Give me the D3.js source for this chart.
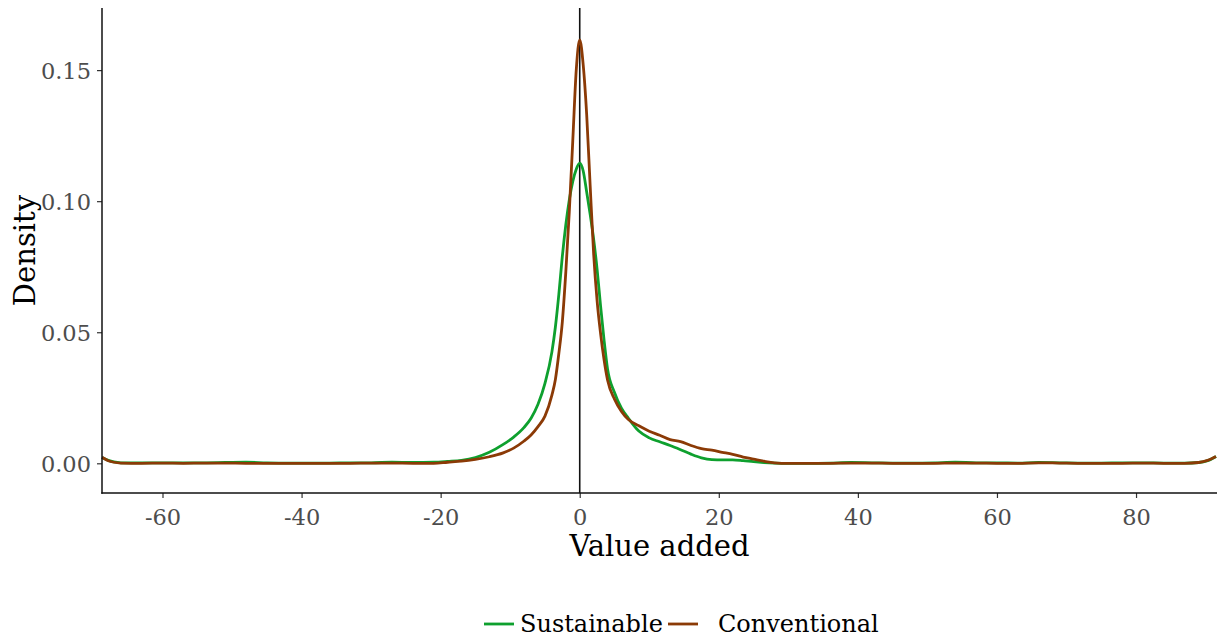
<!DOCTYPE html>
<html lang="en">
<head>
  <meta charset="UTF-8">
  <script src="https://d3js.org/d3.v7.min.js"></script>
  <title>Density of value added</title>
  <style>
    body { margin: 0; background: white; }
    svg text { font-family: "DejaVu Serif", serif; }
  </style>
</head>
<body>
<div id="chart"></div>
<script>
  // grid of x values shared by both density curves
  const xs = [-68.7, -67.8, -67, -66, -63, -60, -57, -54, -51, -48, -45, -42, -39, -36, -33, -30, -27, -24, -21,
    -19, -17, -15, -13, -11, -9.5, -8, -7, -6, -5, -4, -3.5, -3, -2.5, -2, -1.5, -1, -0.5,
    0,
    0.5, 1, 1.5, 2, 2.5, 3, 3.5, 4, 5, 6, 7,
    8.5, 10, 11.5, 13, 14.5, 16, 17.5, 19, 20.5, 22, 23.5, 25, 26.5, 28, 30,
    33, 36, 39, 42, 45, 48, 51, 54, 57, 60, 63, 66, 69, 72, 75, 78, 81, 84, 87, 89, 90.3, 91.5];

  const sustainable = [0.0022, 0.0011, 0.0005, 0.0002, 0.0002, 0.0002, 0.0002, 0.0002, 0.0003, 0.0004, 0.0002, 0.0001, 0.0001, 0.0001, 0.0002, 0.0002, 0.0004, 0.0003, 0.0004,
    0.0007, 0.0011, 0.0022, 0.0042, 0.0072, 0.0100, 0.0137, 0.0172, 0.0225, 0.0305, 0.0425, 0.052, 0.0645, 0.079, 0.091, 0.1005, 0.1075, 0.1122,
    0.1145,
    0.1115, 0.1035, 0.095, 0.0855, 0.074, 0.060, 0.047, 0.036, 0.027, 0.021, 0.0172,
    0.0123, 0.0097, 0.0082, 0.0068, 0.0052, 0.0035, 0.0021, 0.0014, 0.0013, 0.0013, 0.0010, 0.0006, 0.0003, 0.0001, 0.0000,
    0.0000, 0.0001, 0.0003, 0.0002, 0.0001, 0.0001, 0.0002, 0.0004, 0.0002, 0.0002, 0.0001, 0.0003, 0.0002, 0.0001, 0.0001, 0.0002, 0.0002, 0.0001, 0.0001, 0.0003, 0.0010, 0.0026];

  const conventional = [0.0023, 0.0010, 0.0004, 0.0001, 0.0000, 0.0001, 0.0000, 0.0001, 0.0001, 0.0000, 0.0000, 0.0000, 0.0000, 0.0000, 0.0000, 0.0001, 0.0001, 0.0000, 0.0000,
    0.0004, 0.0008, 0.0015, 0.0025, 0.0040, 0.0058, 0.0085, 0.0108, 0.0140, 0.0180, 0.0260, 0.0320, 0.0420, 0.0540, 0.0730, 0.0960, 0.1230, 0.1500,
    0.1615,
    0.152, 0.133, 0.106, 0.080, 0.062, 0.0495, 0.0395, 0.0318, 0.0245, 0.0198, 0.0167,
    0.0143, 0.0122, 0.0107, 0.0090, 0.0083, 0.0068, 0.0056, 0.0050, 0.0042, 0.0034, 0.0024, 0.0016, 0.0008, 0.0002, 0.0000,
    0.0000, 0.0000, 0.0001, 0.0001, 0.0000, 0.0000, 0.0000, 0.0001, 0.0001, 0.0000, 0.0000, 0.0002, 0.0001, 0.0000, 0.0000, 0.0000, 0.0001, 0.0000, 0.0000, 0.0003, 0.0011, 0.0026];

  const xTicks = [-60, -40, -20, 0, 20, 40, 60, 80];
  const yTicks = [0, 0.05, 0.10, 0.15];
  const seriesNames = ["Sustainable", "Conventional"];
  const seriesColors = ["#0ea02e", "#8b3a06"];

  const W = 1217, H = 638;
  const panel = { left: 102, right: 1216, top: 8, bottom: 493 };

  const svg = d3.select("#chart").append("svg")
    .attr("width", W).attr("height", H);

  const x = d3.scaleLinear().domain([-68.7, 91.5]).range([panel.left, panel.right]);
  const y = d3.scaleLinear().domain([-0.01133, 0.1737]).range([panel.bottom, panel.top]);

  // vertical reference line at 0
  svg.append("line")
    .attr("x1", x(0)).attr("x2", x(0))
    .attr("y1", panel.top).attr("y2", panel.bottom)
    .attr("stroke", "#111").attr("stroke-width", 1.6);

  const line = d3.line()
    .x((d, i) => x(xs[i]))
    .y(d => y(d))
    .curve(d3.curveMonotoneX);

  [sustainable, conventional].forEach((s, k) => {
    svg.append("path")
      .datum(s)
      .attr("d", line)
      .attr("fill", "none")
      .attr("stroke", seriesColors[k])
      .attr("stroke-width", 2.8)
      .attr("stroke-linejoin", "round");
  });

  // axes (plain hyphen for negatives, as in the original)
  const xAxis = svg.append("g")
    .attr("transform", `translate(0,${panel.bottom})`)
    .call(d3.axisBottom(x).tickValues(xTicks).tickSize(5).tickPadding(6).tickFormat(d => String(d)));
  const yAxis = svg.append("g")
    .attr("transform", `translate(${panel.left},0)`)
    .call(d3.axisLeft(y).tickValues(yTicks).tickSize(5).tickPadding(6).tickFormat(d => d.toFixed(2)));

  [xAxis, yAxis].forEach(g => {
    g.select(".domain").remove();
    g.selectAll(".tick line").attr("stroke", "#333").attr("stroke-width", 1.2);
    g.selectAll(".tick text")
      .attr("fill", "#4d4d4d")
      .style("font-size", "22.5px")
      .style("font-family", "'DejaVu Serif', serif");
  });
  xAxis.selectAll(".tick text").attr("dy", null).attr("y", 32);
  yAxis.selectAll(".tick text").attr("dy", "0.36em");

  svg.append("line")
    .attr("x1", panel.left).attr("x2", panel.left)
    .attr("y1", panel.top).attr("y2", panel.bottom + 0.7)
    .attr("stroke", "#111").attr("stroke-width", 1.5);
  svg.append("line")
    .attr("x1", panel.left - 0.7).attr("x2", W)
    .attr("y1", panel.bottom).attr("y2", panel.bottom)
    .attr("stroke", "#111").attr("stroke-width", 1.5);

  // axis titles
  svg.append("text")
    .attr("x", (panel.left + W) / 2).attr("y", 556)
    .attr("text-anchor", "middle")
    .style("font-size", "29px")
    .attr("fill", "black")
    .text("Value added");

  svg.append("text")
    .attr("transform", `translate(35,${(panel.top + panel.bottom) / 2}) rotate(-90)`)
    .attr("text-anchor", "middle")
    .style("font-size", "29px")
    .attr("fill", "black")
    .text("Density");

  // legend
  const legendKeys = [484, 668];
  const legendText = [520, 718];
  seriesNames.forEach((n, k) => {
    svg.append("line")
      .attr("x1", legendKeys[k]).attr("x2", legendKeys[k] + 30)
      .attr("y1", 624).attr("y2", 624)
      .attr("stroke", seriesColors[k]).attr("stroke-width", 2.8);
    svg.append("text")
      .attr("x", legendText[k]).attr("y", 632)
      .style("font-size", "24px")
      .attr("fill", "black")
      .text(n);
  });
</script>
</body>
</html>
